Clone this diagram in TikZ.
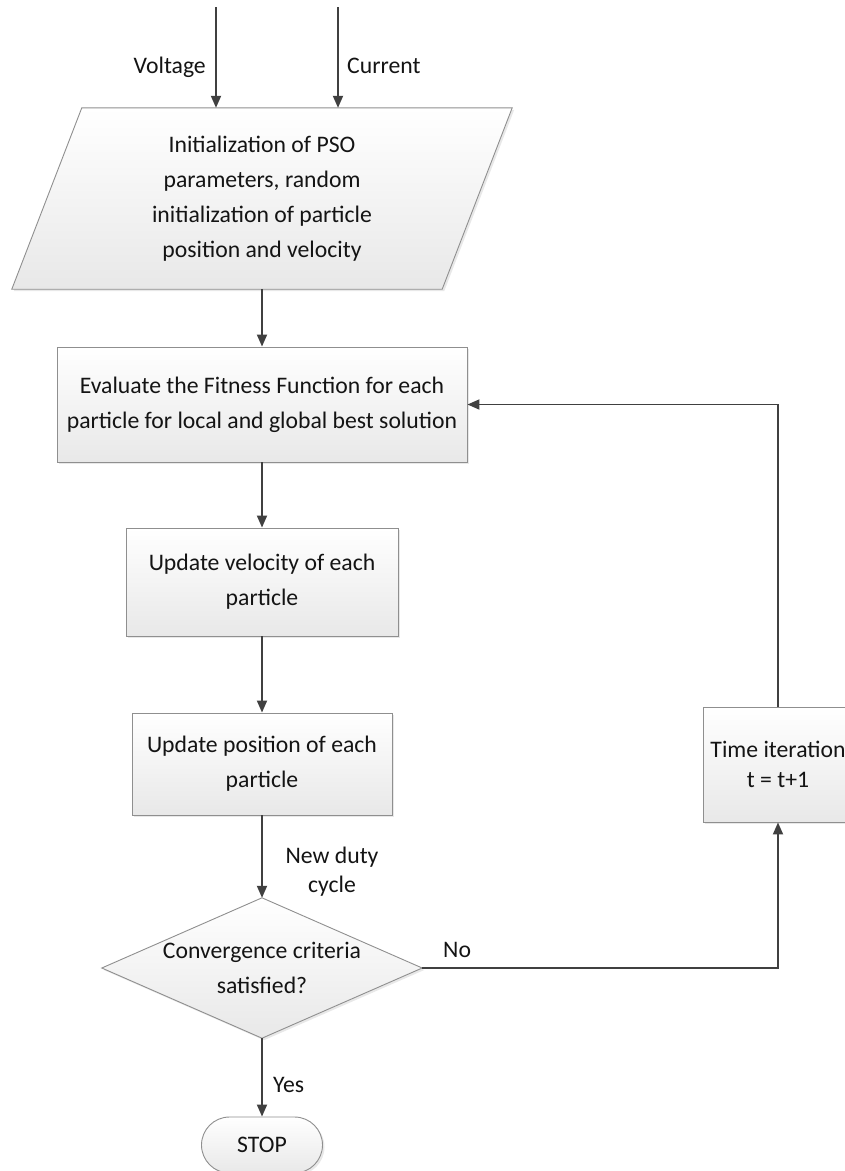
\documentclass[tikz,border=0pt]{standalone}
\usepackage{fontspec}
\setmainfont{Carlito}
\usetikzlibrary{arrows.meta,shadows,calc}
\pgfdeclarelayer{background}
\pgfsetlayers{background,main}
\definecolor{linec}{HTML}{404040}
\definecolor{edgec}{HTML}{8F8F8F}
\definecolor{txt}{HTML}{141414}
\newcommand{\bodyfont}{\fontsize{23.7}{35}\selectfont}
\newcommand{\labelfont}{\fontsize{23.7}{29}\selectfont}
\newcommand{\timefont}{\fontsize{23.7}{30}\selectfont}
\tikzset{
  shade box/.style={draw=edgec, line width=0.9pt, top color=white, bottom color=black!9,
    drop shadow={shadow xshift=2pt,shadow yshift=-2pt,opacity=0.18}},
  stepbox/.style={shade box, rectangle, align=center, inner sep=0pt, font=\bodyfont, text=txt},
  plain text/.style={align=center, inner sep=0pt, font=\bodyfont, text=txt},
  arr/.style={draw=linec, line width=1.8pt, -{Triangle[length=12pt,width=10pt]}},
}
\begin{document}
\begin{tikzpicture}[x=1pt,y=-1pt]
\useasboundingbox (0,0) rectangle (845,1171);
\clip (0,0) rectangle (845,1171);

% nodes
\node[plain text, minimum width=500pt, minimum height=181pt] (init) at (262,198.5)
  {Initialization of PSO\\parameters, random\\initialization of particle\\position and velocity};
\node[stepbox, minimum width=410pt, minimum height=115pt] (eval) at (262,404.5)
  {Evaluate the Fitness Function for each\\particle for local and global best solution};
\node[stepbox, minimum width=272pt, minimum height=108pt] (vel) at (262,582)
  {Update velocity of each\\particle};
\node[stepbox, minimum width=260pt, minimum height=102pt] (pos) at (262,764)
  {Update position of each\\particle};
\node[stepbox, minimum width=150pt, minimum height=115pt, font=\timefont] (time) at (778,764.5)
  {Time iteration\\t = t+1};
\node[plain text, minimum width=320pt, minimum height=140pt] (conv) at (262,968)
  {Convergence criteria\\satisfied?};
\node[stepbox, rounded corners=28pt, minimum width=121pt, minimum height=56pt] (stop) at (262,1145)
  {STOP};

% background shapes
\begin{pgfonlayer}{background}
  \fill[white] (0,0) rectangle (845,1171);
  \path[shade box] (init.south west) -- ([xshift=70pt]init.north west) -- (init.north east)
     -- ([xshift=-70pt]init.south east) -- cycle;
  \path[shade box] (conv.north) -- (conv.east) -- (conv.south) -- (conv.west) -- cycle;
\end{pgfonlayer}

% inputs
\coordinate (vin) at (216,7);
\coordinate (cin) at (338,7);
\draw[arr] (vin) -- (vin |- init.north);
\draw[arr] (cin) -- (cin |- init.north);
\node[plain text, anchor=base east] (vlab) at (206,73) {Voltage};
\node[plain text, anchor=base west] (clab) at (347,73) {Current};

% main flow
\draw[arr] (init.south) -- (eval.north);
\draw[arr] (eval) -- (vel);
\draw[arr] (vel) -- (pos);
\draw[arr] (pos) -- (conv.north);
\node[plain text, font=\labelfont] (duty) at (332,872) {New duty\\cycle};
\draw[arr] (conv.east) -| (time.south);
\node[plain text, anchor=base west] (no) at (443,957) {No};
\draw[arr] (time.north) |- (eval.east);
\draw[arr] (conv.south) -- (stop.north);
\node[plain text, anchor=base west] (yes) at (273,1092) {Yes};
\end{tikzpicture}
\end{document}
